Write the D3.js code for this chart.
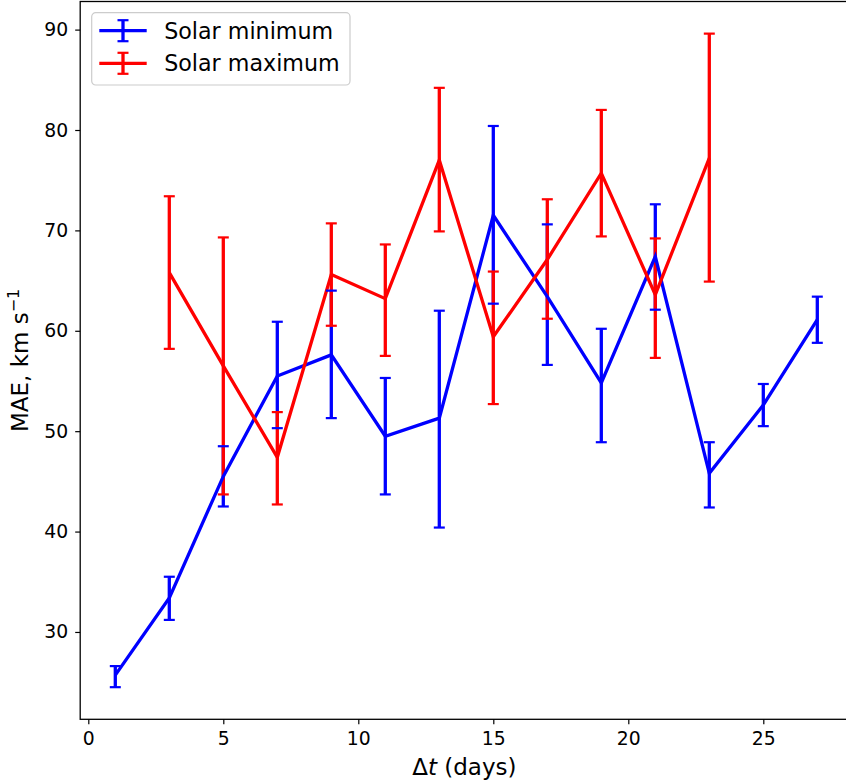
<!DOCTYPE html>
<html>
<head>
<meta charset="utf-8">
<script src="https://cdn.jsdelivr.net/npm/d3@7"></script>
<style>
  body { margin: 0; background: #fff; }
  text { font-family: "DejaVu Sans", sans-serif; }
</style>
</head>
<body>
<script>
// Width and height
var w = 846,
    h = 784;

// Solar minimum (blue)
var minDays  = [1, 3, 5, 7, 9, 11, 13, 15, 17, 19, 21, 23, 25, 27];
var minMae   = [25.7, 33.4, 45.5, 55.5, 57.6, 49.5, 51.3, 71.5, 63.4, 54.8, 67.4, 45.8, 52.6, 61.1];
var minUpper = [26.6, 35.5, 48.5, 60.9, 64.0, 55.3, 62.0, 80.4, 70.6, 60.2, 72.6, 48.9, 54.7, 63.4];
var minLower = [24.5, 31.2, 42.5, 50.3, 51.3, 43.7, 40.4, 62.7, 56.6, 48.9, 62.1, 42.4, 50.5, 58.8];

// Solar maximum (red)
var maxDays  = [3, 5, 7, 9, 11, 13, 15, 17, 19, 21, 23];
var maxMae   = [65.8, 56.5, 47.4, 65.6, 63.2, 77.0, 59.4, 67.1, 75.7, 63.6, 77.2];
var maxUpper = [73.4, 69.3, 51.9, 70.7, 68.6, 84.2, 65.9, 73.1, 82.0, 69.2, 89.6];
var maxLower = [58.2, 43.7, 42.7, 60.5, 57.5, 69.9, 52.7, 61.2, 69.4, 57.3, 64.9];

var xTicks = [0, 5, 10, 15, 20, 25];
var yTicks = [30, 40, 50, 60, 70, 80, 90];

var series = [
  { name: 'Solar minimum', color: '#0000ff', days: minDays, mae: minMae, hi: minUpper, lo: minLower },
  { name: 'Solar maximum', color: '#ff0000', days: maxDays, mae: maxMae, hi: maxUpper, lo: maxLower }
];
series.forEach(function(s) {
  s.points = s.days.map(function(d, i) {
    return { x: d, y: s.mae[i], hi: s.hi[i], lo: s.lo[i] };
  });
});

// plot box (right spine falls outside the picture, as in the reference)
var padL = 80.2, padR = 852.4, padT = 1.5, padB = 719.3;

var xScale = d3.scaleLinear().domain([-0.3, 28.3]).range([padL, padR]);
var yScale = d3.scaleLinear().domain([21.3, 92.8]).range([padB, padT]);

var svg = d3.select('body')
            .append('svg')
            .attr('width', w)
            .attr('height', h);

var lw = 3.3, capHalf = 5.5;

// error bars first (below lines)
series.forEach(function(s) {
  svg.append('g').selectAll('line')
     .data(s.points)
     .enter().append('line')
     .attr('x1', function(d) { return xScale(d.x); })
     .attr('x2', function(d) { return xScale(d.x); })
     .attr('y1', function(d) { return yScale(d.lo); })
     .attr('y2', function(d) { return yScale(d.hi); })
     .attr('stroke', s.color)
     .attr('stroke-width', lw);
});

var line = d3.line()
             .x(function(d) { return xScale(d.x); })
             .y(function(d) { return yScale(d.y); });

series.forEach(function(s) {
  svg.append('path')
     .datum(s.points)
     .attr('fill', 'none')
     .attr('stroke', s.color)
     .attr('stroke-width', lw)
     .attr('stroke-linejoin', 'miter')
     .attr('d', line);
});

// caps on top
series.forEach(function(s) {
  var caps = [];
  s.points.forEach(function(p) {
    caps.push({ x: p.x, v: p.hi });
    caps.push({ x: p.x, v: p.lo });
  });
  svg.append('g').selectAll('line')
     .data(caps)
     .enter().append('line')
     .attr('x1', function(d) { return xScale(d.x) - capHalf; })
     .attr('x2', function(d) { return xScale(d.x) + capHalf; })
     .attr('y1', function(d) { return yScale(d.v); })
     .attr('y2', function(d) { return yScale(d.v); })
     .attr('stroke', s.color)
     .attr('stroke-width', 2.2);
});

// Axes
var xAxis = d3.axisBottom(xScale).tickValues(xTicks).tickSize(5).tickPadding(7);
var yAxis = d3.axisLeft(yScale).tickValues(yTicks).tickSize(5).tickPadding(7);

var gx = svg.append('g')
   .attr('transform', 'translate(0,' + padB + ')')
   .call(xAxis);
var gy = svg.append('g')
   .attr('transform', 'translate(' + padL + ',0)')
   .call(yAxis);

[gx, gy].forEach(function(g) {
  g.select('.domain').remove();
  g.selectAll('.tick line').attr('stroke', '#000').attr('stroke-width', 1.2);
  g.selectAll('.tick text')
   .attr('fill', '#000')
   .style('font-size', '18.8px')
   .style('font-family', '"DejaVu Sans", sans-serif');
});

// frame
svg.append('rect')
   .attr('x', padL)
   .attr('y', padT)
   .attr('width', padR - padL)
   .attr('height', padB - padT)
   .attr('fill', 'none')
   .attr('stroke', '#000')
   .attr('stroke-width', 1.3);

// axis labels
var xl = svg.append('text')
   .attr('x', (padL + padR) / 2 - 2)
   .attr('y', 775)
   .attr('text-anchor', 'middle')
   .style('font-size', '23px');
xl.append('tspan').text('\u0394');
xl.append('tspan').style('font-style', 'italic').text('t');
xl.append('tspan').text(' (days)');

var yl = svg.append('text')
   .attr('transform', 'translate(28,' + ((padT + padB) / 2) + ') rotate(-90)')
   .attr('text-anchor', 'middle')
   .style('font-size', '23px');
yl.append('tspan').text('MAE, km s');
yl.append('tspan').attr('dy', -9).style('font-size', '16px').text('\u22121');

// legend
var legend = svg.append('g').attr('transform', 'translate(91.7,12.7)');
legend.append('rect')
   .attr('width', 258.3)
   .attr('height', 72.3)
   .attr('rx', 4)
   .attr('fill', '#fff')
   .attr('fill-opacity', 0.8)
   .attr('stroke', '#cccccc')
   .attr('stroke-width', 1.2);

series.forEach(function(s, i) {
  var cy = 18 + i * 32.6;
  var g = legend.append('g').attr('transform', 'translate(0,' + cy + ')');
  g.append('line')
   .attr('x1', 7.6).attr('x2', 55)
   .attr('y1', 0).attr('y2', 0)
   .attr('stroke', s.color).attr('stroke-width', lw);
  g.append('line')
   .attr('x1', 31.3).attr('x2', 31.3)
   .attr('y1', -10.5).attr('y2', 10.5)
   .attr('stroke', s.color).attr('stroke-width', lw);
  [-10.5, 10.5].forEach(function(v) {
    g.append('line')
     .attr('x1', 31.3 - capHalf).attr('x2', 31.3 + capHalf)
     .attr('y1', v).attr('y2', v)
     .attr('stroke', s.color).attr('stroke-width', 2.2);
  });
  g.append('text')
   .attr('x', 72.5)
   .attr('y', 8)
   .style('font-size', '22.2px')
   .text(s.name);
});
</script>
</body>
</html>
